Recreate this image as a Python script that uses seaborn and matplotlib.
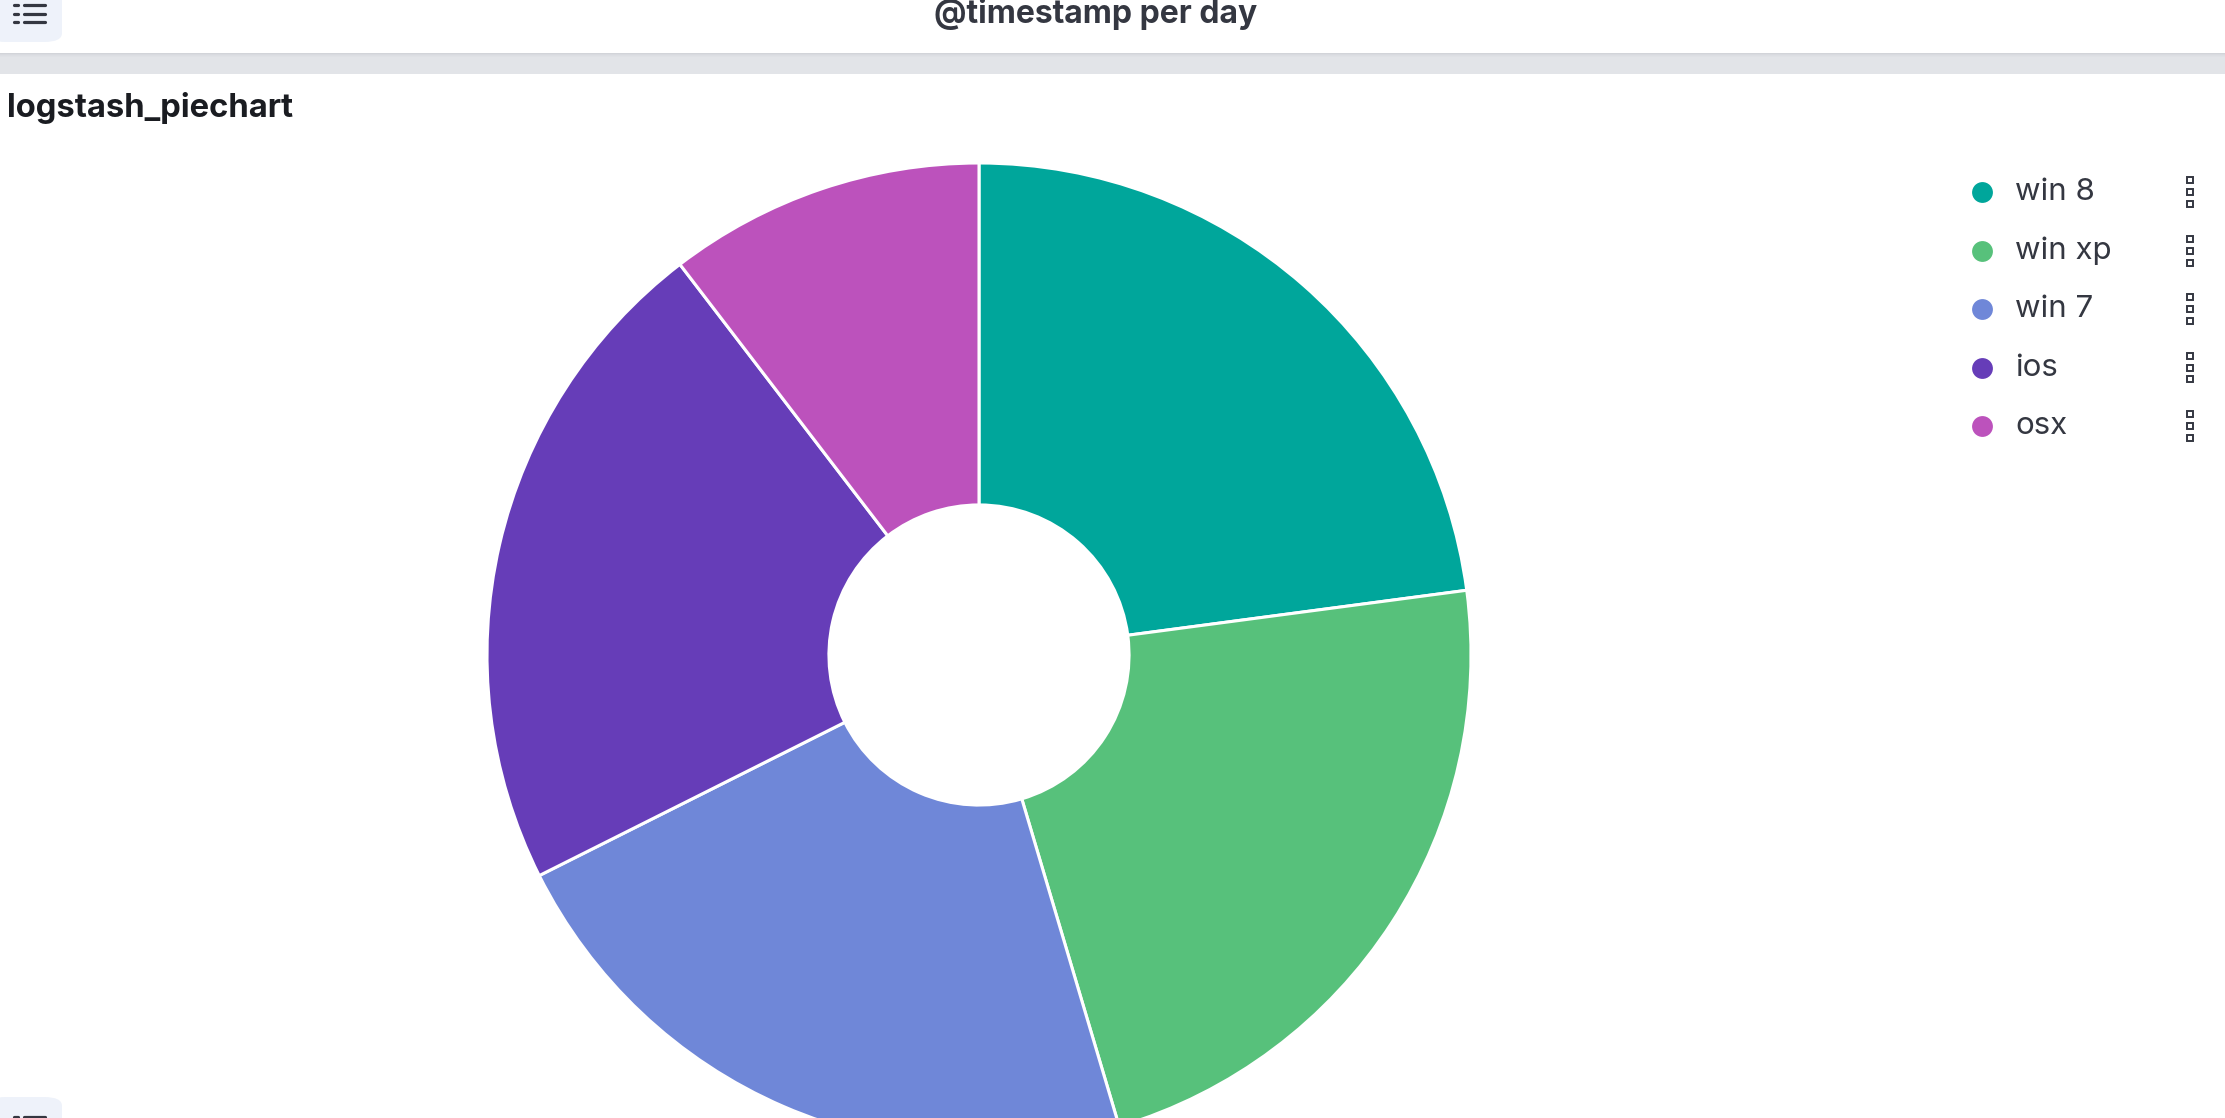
import numpy as np
import matplotlib
matplotlib.use("Agg")
import matplotlib.pyplot as plt
from matplotlib.patches import Rectangle, FancyBboxPatch
from matplotlib.lines import Line2D
import seaborn as sns

labels = ["win 8", "win xp", "win 7", "ios", "osx"]
shares = [22.9, 22.5, 22.2, 22.0, 10.4]
colors = ["#00A69B", "#57C17B", "#6F87D8", "#663DB8", "#BC52BC"]

W, H = 2225, 1118
sns.set_style("white")
plt.rcParams["font.family"] = ["Inter", "DejaVu Sans"]

fig = plt.figure(figsize=(W / 100, H / 100), dpi=100)
fig.patch.set_facecolor("white")

def fx(x):
    return x / W

def fy(y):
    return 1 - y / H

# header strip + grey band (slight shadow at top)
fig.patches.append(Rectangle((0, fy(74)), 1, 21 / H, transform=fig.transFigure,
                             facecolor="#E2E4E8", edgecolor="none", zorder=0))
for i, c in enumerate(["#D2D4D9", "#D8DADF", "#DCDEE3", "#DFE1E5"]):
    fig.patches.append(Rectangle((0, fy(54 + i)), 1, 1 / H, transform=fig.transFigure,
                                 facecolor=c, edgecolor="none", zorder=1))

# menu buttons (top and bottom left)
for y0 in [-25, 1097]:
    fig.patches.append(FancyBboxPatch((fx(-12), fy(y0 + 67)), 74 / W, 67 / H,
                                      boxstyle="round,pad=0,rounding_size=0.008",
                                      transform=fig.transFigure, facecolor="#EEF2FA",
                                      edgecolor="none", zorder=1))
for yy in [5, 13.5, 22, 1117]:
    fig.lines.append(Line2D([fx(24), fx(45)], [fy(yy), fy(yy)], transform=fig.transFigure,
                            color="#343741", lw=2.3, zorder=2))
    fig.lines.append(Line2D([fx(14), fx(18)], [fy(yy), fy(yy)], transform=fig.transFigure,
                            color="#343741", lw=2.3, zorder=2))

fig.text(fx(1096), fy(23), "@timestamp per day", ha="center", va="baseline",
         fontsize=23, fontweight="bold", color="#343741")
fig.text(fx(7), fy(117), "logstash_piechart", ha="left", va="baseline",
         fontsize=23.6, fontweight="bold", color="#1A1C21")

# donut
cx, cy, r = 979, 655, 492
ax = fig.add_axes([fx(cx - r), fy(cy + r), 2 * r / W, 2 * r / H])
ax.pie(shares, colors=colors, startangle=90, counterclock=False, radius=1,
       wedgeprops=dict(width=0.695, edgecolor="white", linewidth=2.2))
ax.set_xlim(-1, 1)
ax.set_ylim(-1, 1)
ax.axis("off")

# legend
for i, (lab, col) in enumerate(zip(labels, colors)):
    yy = 192 + i * 58.5
    fig.lines.append(Line2D([fx(1982)], [fy(yy)], transform=fig.transFigure, marker="o",
                            ms=15, color=col, markeredgewidth=0))
    fig.text(fx(2015), fy(yy), lab, ha="left", va="center", fontsize=22.5, color="#343741")
    for d in [-12, 0, 12]:
        fig.lines.append(Line2D([fx(2190)], [fy(yy + d)], transform=fig.transFigure,
                                marker="s", ms=4.5, markerfacecolor="white",
                                markeredgecolor="#343741", markeredgewidth=1.4))

fig.savefig("out.png", dpi=100)
